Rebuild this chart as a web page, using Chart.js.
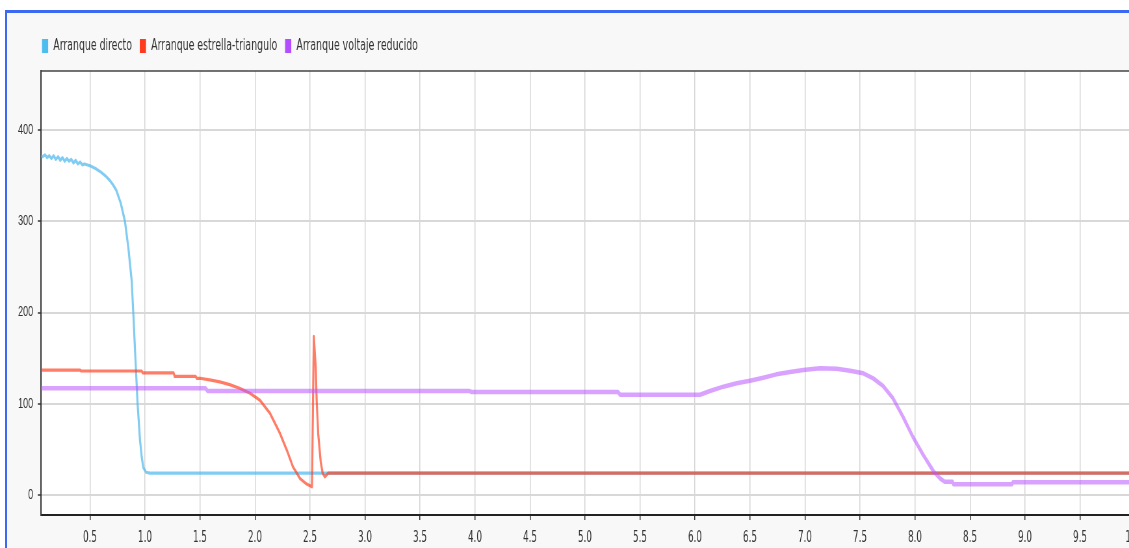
<!DOCTYPE html>
<html><head><meta charset="utf-8">
<script src="https://cdn.jsdelivr.net/npm/chart.js@4.4.1/dist/chart.umd.min.js"></script>
<style>
html,body{margin:0;padding:0;background:#fff;overflow:hidden;width:1129px;height:548px;}
#frame{position:absolute;left:5px;top:10px;width:1200px;height:600px;border-top:3px solid #3d69f2;border-left:2px solid #3d69f2;background:#f8f8f8;}
#wrap{position:absolute;left:0;top:0;width:1790px;height:548px;transform:scaleX(0.65);transform-origin:0 0;}
</style></head><body>
<div id="frame"></div>
<div id="wrap"><canvas id="c" width="1790" height="548"></canvas></div>
<script>
const seriesNames = ['Arranque directo', 'Arranque estrella-triangulo', 'Arranque voltaje reducido'];

const directoTime = [0.055,0.07,0.09,0.11,0.13,0.15,0.17,0.19,0.21,0.23,0.25,0.27,0.29,0.31,0.33,0.35,0.37,0.39,0.41,0.43,0.45,0.5,0.55,0.6,0.64,0.68,0.71,0.74,0.78,0.818,0.85,0.879,0.894,0.913,0.933,0.955,0.97,0.985,1.01,1.045,1.2,2.0,3.0,5.0,8.0,10.2];
const directoValues = [372,371,373,370,372,369,372,368,371,367,370,366,369,366,368,364,367,363,365,362,363,361,358,354,350,345,340,334,320,300,270,235,199,150,100,60,42,30,25,24,24,24,24,24,24,24];

const estrellaTime = [0.055,0.41,0.42,0.97,0.98,1.26,1.27,1.46,1.47,1.5,1.6,1.68,1.77,1.86,1.955,2.045,2.136,2.227,2.29,2.345,2.41,2.47,2.518,2.535,2.552,2.561,2.575,2.597,2.615,2.636,2.666,10.2];
const estrellaValues = [137,137,136,136,134,134,130,130,128,128,126,124,121,117,111.5,104,89.6,67.7,49,31,18,12,9,174,140,103,67,37,24,20,24,24];

const voltajeTime = [0.055,1.55,1.57,3.95,3.97,5.3,5.32,6.045,6.136,6.258,6.379,6.5,6.62,6.74,6.864,6.985,7.136,7.288,7.41,7.53,7.62,7.71,7.8,7.89,7.98,8.075,8.17,8.23,8.27,8.34,8.35,8.88,8.89,10.2];
const voltajeValues = [117,117,114,114,113,113,110,110,114,118.8,122.5,125.4,128.6,132.3,134.9,137,138.9,138.5,136.3,133.4,127.9,119.5,106,85.9,63.9,43.9,25.6,18,14.6,14.6,11.7,11.7,14,14];

const xTickValues = [0.5,1,1.5,2,2.5,3,3.5,4,4.5,5,5.5,6,6.5,7,7.5,8,8.5,9,9.5,10];
const yTickValues = [0,100,200,300,400];

const toPts = (ts, vs) => ts.map((t, i) => ({x: t, y: vs[i]}));
const legendColors = ['#4dbdf0', '#ff3b1f', '#b44dff'];
const narrow = "'DejaVu Sans Condensed', 'Liberation Sans Narrow', sans-serif";
const regular = "'Liberation Sans', Arial, sans-serif";

const framePlugin = {
  id: 'frame',
  beforeLayout(chart) {
    const lg = chart.legend;
    if (lg && !lg._patched) {
      const f = lg.fit;
      lg.fit = function () { f.call(this); this.height = 45; };
      lg._patched = true;
    }
  },
  afterLayout(chart) {
    const lg = chart.legend;
    if (lg) { lg.left += 32.6; lg.right += 32.6; }
  },
  beforeDraw(chart) {
    const {ctx, chartArea: a} = chart;
    ctx.save();
    ctx.fillStyle = '#ffffff';
    ctx.fillRect(a.left, a.top, a.right - a.left, a.bottom - a.top);
    ctx.restore();
  },
  afterDraw(chart) {
    const {ctx, chartArea: a} = chart;
    ctx.save();
    ctx.strokeStyle = '#444';
    ctx.lineWidth = 1.5;
    ctx.beginPath();
    ctx.moveTo(a.left, a.top);
    ctx.lineTo(a.right, a.top);
    ctx.stroke();
    ctx.restore();
  }
};

new Chart(document.getElementById('c'), {
  type: 'line',
  data: {
    datasets: [
      {label: seriesNames[0], data: toPts(directoTime, directoValues), borderColor: 'rgba(80,185,238,0.72)', borderWidth: 3.2, order: 3},
      {label: seriesNames[1], data: toPts(estrellaTime, estrellaValues), borderColor: 'rgba(255,62,30,0.68)', borderWidth: 3.2, order: 2},
      {label: seriesNames[2], data: toPts(voltajeTime, voltajeValues), borderColor: 'rgba(185,85,255,0.55)', borderWidth: 4.5, order: 1}
    ]
  },
  options: {
    responsive: false,
    animation: false,
    devicePixelRatio: 1,
    elements: {point: {radius: 0}, line: {tension: 0, borderJoinStyle: 'round'}},
    layout: {padding: {left: 20, top: 26, right: 10, bottom: 0}},
    plugins: {
      tooltip: {enabled: false},
      legend: {
        position: 'top',
        align: 'start',
        labels: {
          boxWidth: 9.5, boxHeight: 14, padding: 12, color: '#333',
          font: {family: narrow, size: 16},
          generateLabels(chart) {
            return chart.data.datasets.map((d, i) => ({
              text: d.label, fillStyle: legendColors[i], strokeStyle: legendColors[i],
              lineWidth: 0, hidden: false, datasetIndex: i, fontColor: '#333'
            }));
          }
        }
      }
    },
    scales: {
      x: {
        type: 'linear', min: 0.055, max: 10.2,
        afterBuildTicks(s) { s.ticks = xTickValues.map(v => ({value: v})); },
        afterFit(s) { s.height = 33; },
        grid: {color: '#d6d6d6', lineWidth: 1.5, tickColor: '#333', tickLength: 5, tickWidth: 1.5},
        border: {color: '#222', width: 2},
        ticks: {color: '#333', padding: 9, maxRotation: 0, autoSkip: false, font: {family: narrow, size: 15},
          callback: v => Number(v).toFixed(1)}
      },
      y: {
        type: 'linear', min: -21.9, max: 464.9,
        afterBuildTicks(s) { s.ticks = yTickValues.map(v => ({value: v})); },
        afterFit(s) { s.width = 43.1; },
        grid: {color: '#d8d8d8', lineWidth: 2, tickColor: '#333', tickLength: 5, tickWidth: 1.5},
        border: {color: '#333', width: 2},
        ticks: {color: '#333', padding: 7, font: {family: regular, size: 14}}
      }
    }
  },
  plugins: [framePlugin]
});
</script>
</body></html>
